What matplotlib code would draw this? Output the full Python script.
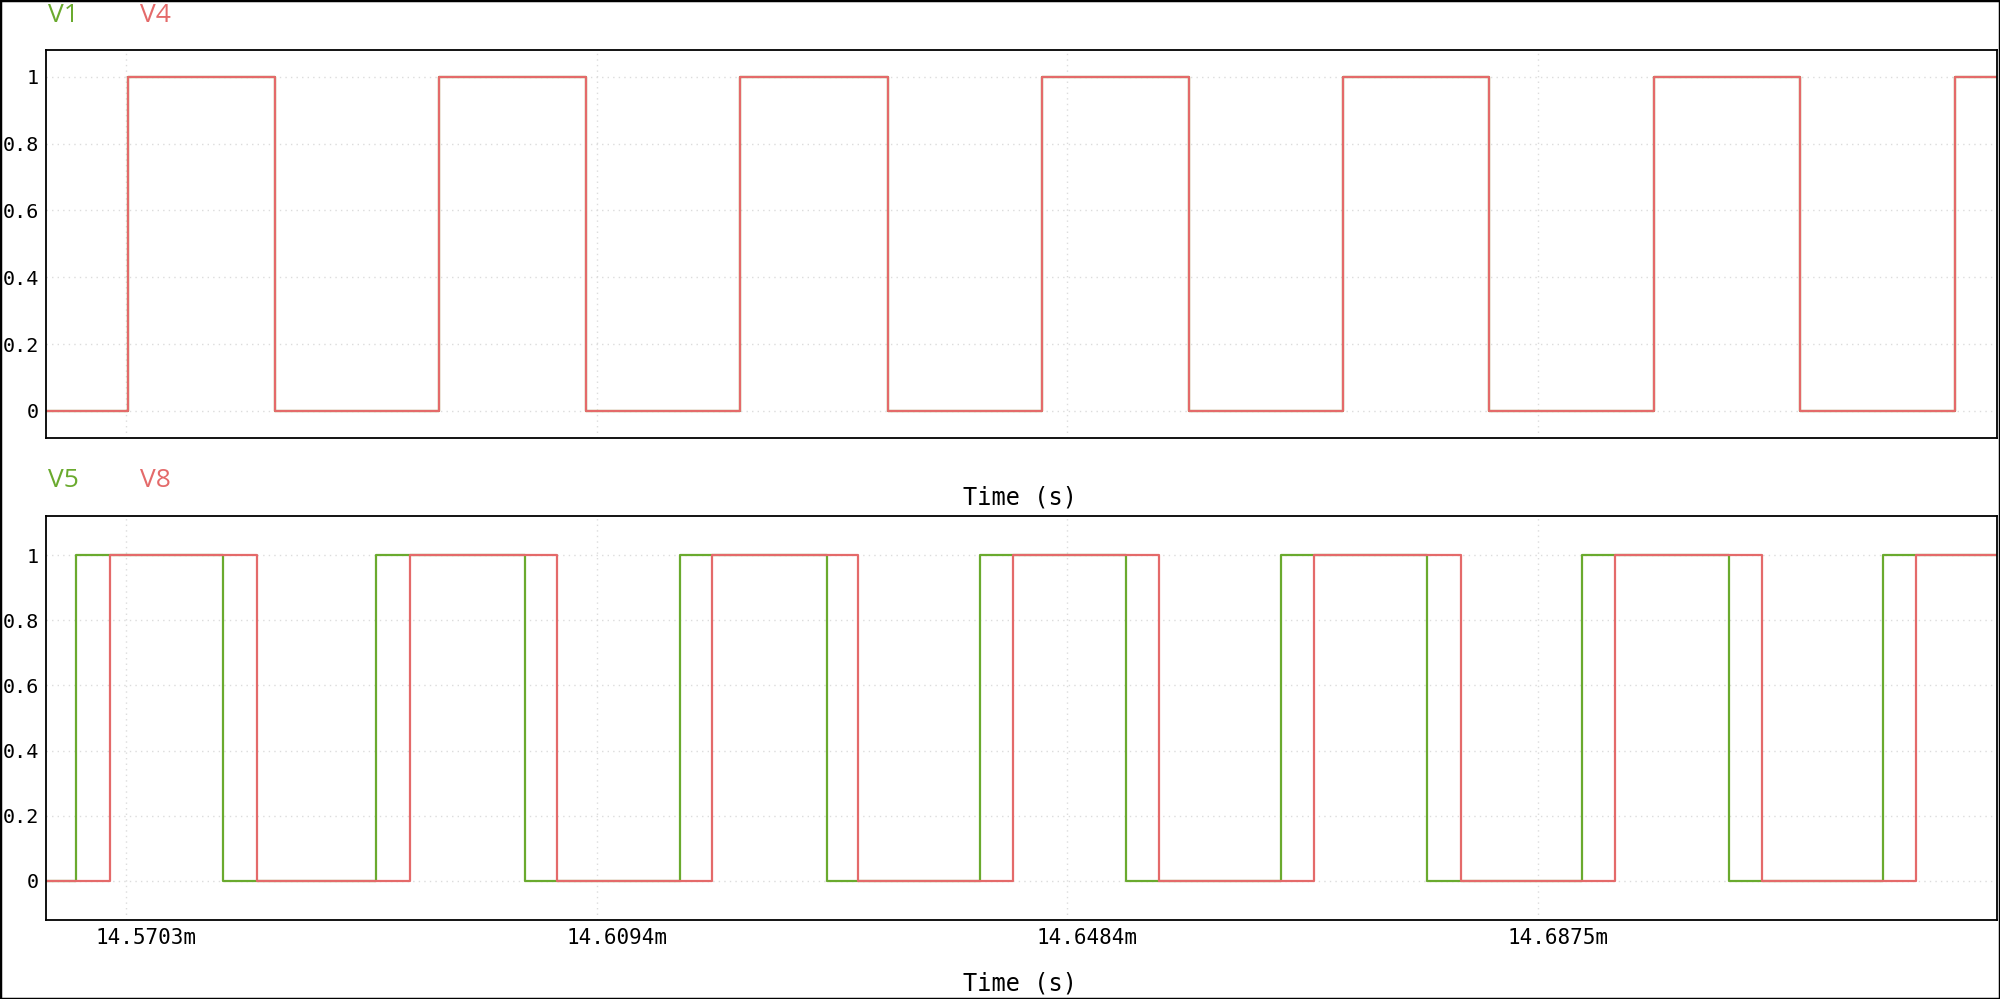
import numpy as np
import matplotlib.pyplot as plt
import matplotlib.transforms as mtransforms
from matplotlib.patches import Rectangle

# time in ms
t_start = 14.56367
t_end = 14.72559

# top panel (V4 drawn over V1, same edges)
v1_rise = [14.57044, 14.59629, 14.62127, 14.64633, 14.67132, 14.69713, 14.72211]
v1_fall = [14.58268, 14.60849, 14.63355, 14.65853, 14.68343, 14.70924]
v4_rise = [14.57044, 14.59629, 14.62127, 14.64633, 14.67132, 14.69713, 14.72211]
v4_fall = [14.58268, 14.60849, 14.63355, 14.65853, 14.68343, 14.70924]

# bottom panel
v5_rise = [14.56620, 14.59106, 14.61629, 14.64119, 14.66614, 14.69115, 14.71613]
v5_fall = [14.57833, 14.60343, 14.62845, 14.65327, 14.67829, 14.70335]
v8_rise = [14.56898, 14.59388, 14.61895, 14.64393, 14.66891, 14.69389, 14.71887]
v8_fall = [14.58118, 14.60608, 14.63106, 14.65604, 14.68111, 14.70605]

xtick_vals = [14.5703125, 14.609375, 14.6484375, 14.6875]
xtick_labels = ['14.5703m', '14.6094m', '14.6484m', '14.6875m']
ytick_vals = [0, 0.2, 0.4, 0.6, 0.8, 1]
ytick_labels = ['0', '0.2', '0.4', '0.6', '0.8', '1']

green = '#6aaa2e'
red = '#e46a6a'
mono = 'DejaVu Sans Mono'
sans = 'Open Sans'


def wave(rise, fall, t0, t1):
    edges = sorted([(r, 1) for r in rise] + [(f, 0) for f in fall])
    lvl = 0 if edges[0][1] == 1 else 1
    t = [t0]
    v = [lvl]
    for e, l in edges:
        t.append(e)
        v.append(l)
    t.append(t1)
    v.append(v[-1])
    return np.array(t), np.array(v)


fig = plt.figure(figsize=(20, 9.99), dpi=100)
fig.patch.set_facecolor('white')
fig.patches.append(Rectangle((0, 0), 1, 1, transform=fig.transFigure,
                             fill=False, edgecolor='black', linewidth=2.5))

ax1 = fig.add_axes([0.023, 0.5619, 0.9755, 0.3881])
ax2 = fig.add_axes([0.023, 0.0791, 0.9755, 0.4044])

for ax, ylim in ((ax1, (-0.08, 1.08)), (ax2, (-0.12, 1.12))):
    ax.set_xlim(t_start, t_end)
    ax.set_ylim(*ylim)
    ax.set_xticks(xtick_vals)
    ax.set_yticks(ytick_vals)
    ax.set_yticklabels(ytick_labels, fontfamily=mono, fontsize=14.5)
    ax.grid(True, color='#dcdcdc', linestyle=(0, (1, 3)), linewidth=1)
    ax.tick_params(axis='y', length=0, pad=5)
    ax.tick_params(axis='x', length=0, pad=6)
    for s in ax.spines.values():
        s.set_color('black')
        s.set_linewidth(1.3)

t, v = wave(v1_rise, v1_fall, t_start, t_end)
ax1.step(t, v, where='post', color=green, linewidth=1.6)
t, v = wave(v4_rise, v4_fall, t_start, t_end)
ax1.step(t, v, where='post', color=red, linewidth=1.6)
ax1.set_xticklabels([])

t, v = wave(v5_rise, v5_fall, t_start, t_end)
ax2.step(t, v, where='post', color=green, linewidth=1.6)
t, v = wave(v8_rise, v8_fall, t_start, t_end)
ax2.step(t, v, where='post', color=red, linewidth=1.6)
ax2.set_xticklabels(xtick_labels, fontfamily=mono, fontsize=15)
off = mtransforms.ScaledTranslation(20 / 100, 0, fig.dpi_scale_trans)
for lab in ax2.get_xticklabels():
    lab.set_transform(lab.get_transform() + off)

H = 999.0
W = 2000.0
fig.text(48 / W, 1 - 16 / H, 'V1', color=green, fontfamily=sans, fontsize=19, va='center', ha='left')
fig.text(140 / W, 1 - 16 / H, 'V4', color=red, fontfamily=sans, fontsize=19, va='center', ha='left')
fig.text(48 / W, 1 - 481 / H, 'V5', color=green, fontfamily=sans, fontsize=19, va='center', ha='left')
fig.text(140 / W, 1 - 481 / H, 'V8', color=red, fontfamily=sans, fontsize=19, va='center', ha='left')
fig.text(1020 / W, 1 - 497 / H, 'Time (s)', fontfamily=mono, fontsize=17, va='center', ha='center')
fig.text(1020 / W, 1 - 983 / H, 'Time (s)', fontfamily=mono, fontsize=17, va='center', ha='center')

fig.savefig('out.png', dpi=100, facecolor='white')
